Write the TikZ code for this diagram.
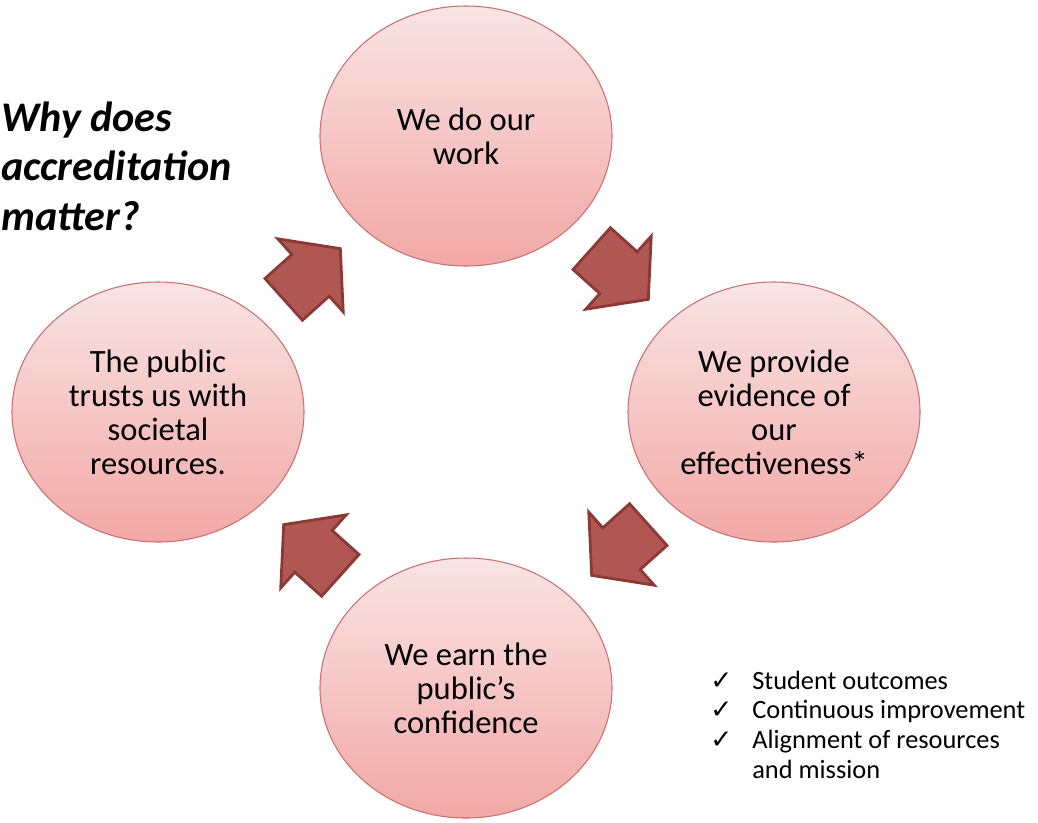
\documentclass[tikz,border=0pt]{standalone}
\usepackage{fontspec}
\setmainfont{Carlito}
\newfontfamily\symfont{DejaVu Sans}
\usetikzlibrary{shapes.geometric}

\definecolor{ringtop}{RGB}{249,228,228}
\definecolor{ringbottom}{RGB}{242,168,166}
\definecolor{ringline}{RGB}{200,112,110}
\definecolor{turnfill}{RGB}{177,87,83}
\definecolor{turnline}{RGB}{140,56,53}

\newcommand\checkitem{\makebox[0.84cm][l]{\symfont ✓}}

\begin{document}
\begin{tikzpicture}[
  stage/.style={ellipse, draw=ringline, line width=0.6pt, top color=ringtop, bottom color=ringbottom,
    minimum width=5.84cm, minimum height=5.2cm, inner sep=0pt, align=center,
    font=\fontsize{18.5}{19.4}\selectfont},
  turn/.pic={
    \draw[turnline, fill=turnfill, line width=1.6pt]
      (-0.76,0.56) -- (-0.04,0.56) -- (-0.04,0.98) -- (0.76,0)
      -- (-0.04,-0.98) -- (-0.04,-0.56) -- (-0.76,-0.56) -- cycle;
  }]
\useasboundingbox (-9.32,-8.2) rectangle (11.44,8.24);

% the four stages of the cycle
\node[stage] (work) at (0,5.52) {We do our\\work};
\node[stage] (evidence) at (6.16,0) {We provide\\evidence of\\our\\effectiveness*};
\node[stage] (confidence) at (0,-5.52) {We earn the\\public’s\\confidence};
\node[stage] (trust) at (-6.16,0) {The public\\trusts us with\\societal\\resources.};

% block arrows, clockwise
\path (work) -- pic[midway, sloped, allow upside down] {turn} (evidence);
\path (evidence) -- pic[midway, sloped, allow upside down] {turn} (confidence);
\path (confidence) -- pic[midway, sloped, allow upside down] {turn} (trust);
\path (trust) -- pic[midway, sloped, allow upside down] {turn} (work);

\node[anchor=base west, inner sep=0pt, align=left, font=\fontsize{24}{28}\bfseries\itshape\selectfont] (question)
  at (-9.3,3.64) {Why does\\accreditation\\matter?};
\node[anchor=base west, inner sep=0pt, align=left, font=\fontsize{15}{16.8}\selectfont] (aims) at (4.88,-7.32)
  {\checkitem Student outcomes\\\checkitem Continuous improvement\\\checkitem Alignment of resources\\\hspace*{0.84cm}and mission};
\end{tikzpicture}
\end{document}
